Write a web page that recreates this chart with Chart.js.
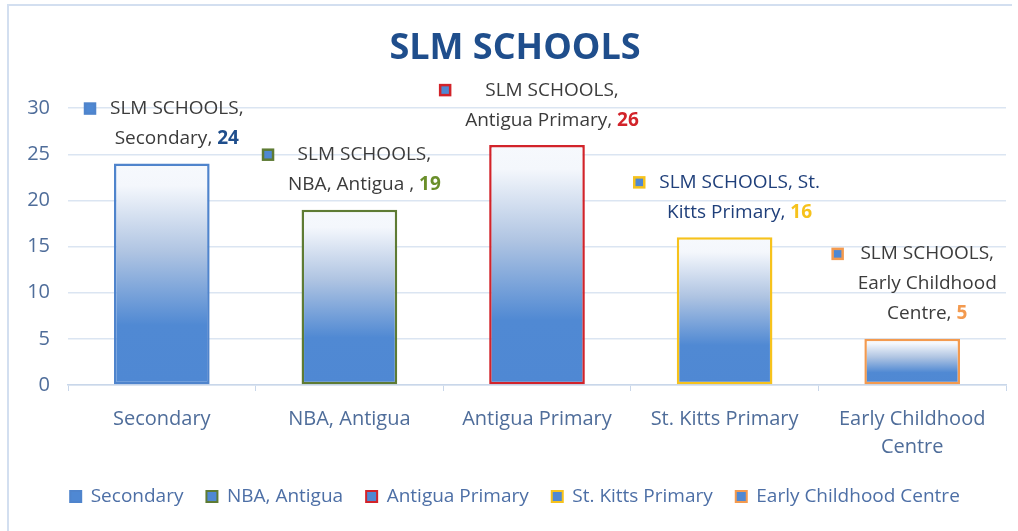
<!DOCTYPE html>
<html>
<head>
<meta charset="utf-8">
<script src="https://cdn.jsdelivr.net/npm/chart.js@4"></script>
<style>
	html, body { margin: 0; padding: 0; background: #fff; }
	#wrap { width: 1018px; height: 531px; }
</style>
</head>
<body>
<div id="wrap"><canvas id="grafico" width="1018" height="531"></canvas></div>
<script>
const SERIE = "SLM SCHOOLS"
const categorias = ["Secondary", "NBA, Antigua", "Antigua Primary", "St. Kitts Primary", "Early Childhood Centre"]
const rotulosX = ["Secondary", "NBA, Antigua", "Antigua Primary", "St. Kitts Primary", ["Early Childhood", "Centre"]]
const alunos = [24, 19, 26, 16, 5]
const ticksY = [0, 5, 10, 15, 20, 25, 30]

// texto dos rotulos de dados (o valor entra no fim da ultima linha)
const linhasRotulo = [
	["SLM SCHOOLS,", "Secondary, "],
	["SLM SCHOOLS,", "NBA, Antigua , "],
	["SLM SCHOOLS,", "Antigua Primary, "],
	["SLM SCHOOLS, St.", "Kitts Primary, "],
	["SLM SCHOOLS,", "Early Childhood", "Centre, "],
]

const bordas = ["#4f84cc", "#5e7b34", "#d2232a", "#f6c21c", "#f39a4f"]
const corValor = ["#1f4e8c", "#6a8f2a", "#d2232a", "#f6c21c", "#f39a4f"]
const corTexto = ["#3b3b3b", "#3b3b3b", "#3b3b3b", "#1f3f7a", "#3b3b3b"]
const AZUL = "#4f88d3"
const FONTE = "'Open Sans', 'Noto Sans', sans-serif"

function gradiente(ctx, base, topo) {
	let g = ctx.createLinearGradient(0, base, 0, topo)
	g.addColorStop(0, "#4f88d3")
	g.addColorStop(0.27, "#5089d3")
	g.addColorStop(0.6, "#afc4e2")
	g.addColorStop(0.9, "#f4f7fc")
	g.addColorStop(1, "#f6f9fd")
	return g
}

const moldura = {
	id: "moldura",
	beforeDraw(chart) {
		let c = chart.ctx
		c.save()
		c.strokeStyle = "#d3dff0"
		c.lineWidth = 2
		c.beginPath()
		c.moveTo(8, 531)
		c.lineTo(8, 5)
		c.lineTo(1012, 5)
		c.stroke()
		c.restore()
	},
}

const rotulos = {
	id: "rotulos",
	afterDatasetsDraw(chart) {
		let c = chart.ctx
		let meta = chart.getDatasetMeta(0)
		let fonteNormal = "19px " + FONTE
		let fonteValor = "bold 19px " + FONTE
		c.save()
		c.textBaseline = "middle"
		c.textAlign = "left"
		meta.data.forEach((bar, i) => {
			let linhas = linhasRotulo[i]
			let n = linhas.length
			let cx = bar.x + 15
			let esquerda = Infinity
			let primeiraY = 0
			linhas.forEach((txt, k) => {
				let y = bar.y - 25 - (n - 1 - k) * 30
				if (k == 0) primeiraY = y
				let ultima = k == n - 1
				let valor = ultima ? String(alunos[i]) : ""
				c.font = fonteNormal
				let wTxt = c.measureText(txt).width
				c.font = fonteValor
				let wVal = c.measureText(valor).width
				let x0 = cx - (wTxt + wVal) / 2
				esquerda = Math.min(esquerda, x0)
				c.font = fonteNormal
				c.fillStyle = corTexto[i]
				c.fillText(txt, x0, y)
				if (ultima) {
					c.font = fonteValor
					c.fillStyle = corValor[i]
					c.fillText(valor, x0 + wTxt, y)
				}
			})
			// marcador da legenda
			let mx = esquerda - 20
			c.fillStyle = AZUL
			c.fillRect(mx - 5, primeiraY - 5, 10, 10)
			c.strokeStyle = bordas[i]
			c.lineWidth = 2.5
			c.strokeRect(mx - 5, primeiraY - 5, 10, 10)
		})
		c.restore()
	},
}

const config = {
	type: "bar",
	data: {
		labels: rotulosX,
		datasets: [
			{
				label: SERIE,
				data: alunos,
				backgroundColor: (ctx) => {
					let chart = ctx.chart
					if (!chart.chartArea || !chart.scales.y) return AZUL
					let y = chart.scales.y
					return gradiente(chart.ctx, y.getPixelForValue(0), y.getPixelForValue(ctx.raw))
				},
				borderColor: bordas,
				borderWidth: 2.5,
				borderSkipped: false,
				barPercentage: 0.51,
				categoryPercentage: 1,
			},
		],
	},
	options: {
		responsive: false,
		animation: false,
		layout: { padding: { left: 24, right: 12, top: 0, bottom: 15 } },
		plugins: {
			title: {
				display: true,
				text: SERIE,
				color: "#1f4e8c",
				font: { family: FONTE, size: 36, weight: "bold", lineHeight: 1.2 },
				padding: { top: 27, bottom: 38 },
			},
			legend: {
				position: "bottom",
				onClick: null,
				labels: {
					font: { family: FONTE, size: 19 },
					color: "#4d6fa6",
					boxWidth: 11,
					boxHeight: 11,
					padding: 23,
					generateLabels: () =>
						categorias.map((nome, i) => ({
							text: nome,
							fillStyle: AZUL,
							strokeStyle: bordas[i],
							lineWidth: 2,
							fontColor: "#4d6fa6",
							hidden: false,
							index: i,
						})),
				},
			},
			tooltip: { enabled: false },
		},
		scales: {
			x: {
				grid: {
					drawOnChartArea: false,
					drawTicks: true,
					tickLength: 6,
					color: "#c9d7ea",
				},
				border: { display: true, color: "#c9d7ea", width: 1.5 },
				ticks: {
					color: "#4f6d9a",
					font: { family: FONTE, size: 20, lineHeight: 1.4 },
					padding: 14,
					maxRotation: 0,
					autoSkip: false,
				},
				afterFit: (scale) => {
					scale.height = 79
				},
			},
			y: {
				min: 0,
				max: 30,
				afterBuildTicks: (scale) => {
					scale.ticks = ticksY.map((v) => ({ value: v }))
				},
				grid: { color: "#dbe5f2", lineWidth: 1.5, drawTicks: false },
				border: { display: false },
				ticks: {
					color: "#4f6d9a",
					font: { family: FONTE, size: 20 },
					padding: 18,
				},
				afterFit: (scale) => {
					scale.width = 44
				},
			},
		},
	},
	plugins: [moldura, rotulos],
}

var grafico = new Chart(document.getElementById("grafico"), config)
</script>
</body>
</html>
